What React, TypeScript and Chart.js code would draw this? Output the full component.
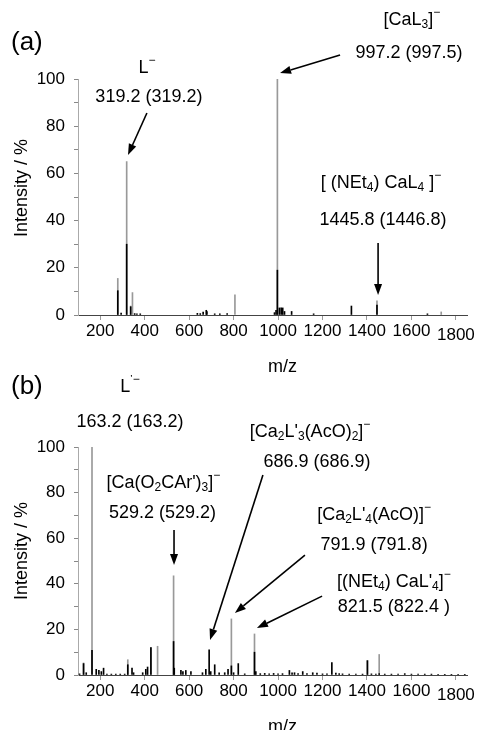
import React, { useEffect, useRef } from 'react';
import { Chart, registerables } from 'chart.js';

Chart.register(...registerables);

// ---------- tick labels / ranges ----------
const X_MIN = 100;
const X_MAX = 1850;
const xTickValues = [200, 400, 600, 800, 1000, 1200, 1400, 1600, 1800];
const yTickValues = [0, 20, 40, 60, 80, 100];

// ---------- panel (a) peaks ----------
const aGrayMz = [279, 319, 337, 345, 806, 997, 1445, 1734];
const aGrayInt = [15.5, 65, 3.8, 9.5, 8.5, 100, 6, 1.3];
const aBlackMz = [279, 294, 319, 337, 355, 365, 380, 637, 650, 663, 677, 680, 715, 738, 771, 984, 991, 997, 1006, 1014, 1021, 1029, 1061, 1160, 1330, 1445, 1672];
const aBlackInt = [10.3, 0.8, 30, 3.5, 0.6, 0.5, 0.5, 0.7, 0.6, 1.2, 2, 1.5, 0.5, 0.5, 0.6, 1, 2, 19, 3, 3, 3, 1.5, 1.5, 0.5, 3.8, 4.2, 0.5];

// ---------- panel (b) peaks ----------
const bGrayMz = [125, 163, 324, 428, 458, 530, 790, 894, 1402, 1455];
const bGrayInt = [5.3, 100, 6.7, 12, 12.6, 43.5, 24.6, 18, 6.3, 9];
const bBlackMz = [107, 125, 137, 163, 182, 194, 205, 215, 230, 250, 270, 290, 310, 324, 343, 350, 391, 405, 413, 428, 530, 533, 563, 572, 585, 608, 660, 675, 690, 697, 715, 735, 760, 775, 790, 800, 821, 850, 894, 900, 920, 940, 960, 980, 1000, 1020, 1051, 1063, 1074, 1090, 1111, 1130, 1156, 1175, 1200, 1220, 1242, 1260, 1275, 1290, 1320, 1350, 1380, 1402, 1420, 1440, 1455, 1480, 1510, 1540, 1570, 1600, 1630, 1660, 1690, 1720, 1750, 1780, 1810, 1840];
const bBlackInt = [0.5, 5, 1, 10.8, 2.5, 2, 1.5, 3, 0.4, 0.4, 0.4, 0.4, 0.4, 4.5, 3, 1, 1, 2.5, 3.5, 12, 14.7, 3, 2, 1.5, 2, 1.5, 1, 2.5, 11, 1.5, 4.5, 1, 1, 2.5, 4, 1, 5, 0.5, 10, 1.5, 0.6, 0.7, 0.5, 0.7, 0.5, 0.6, 2, 1, 1, 0.6, 1.5, 0.6, 1, 0.8, 0.5, 0.5, 5.5, 0.8, 0.6, 0.5, 0.4, 0.4, 0.4, 6.3, 0.5, 0.4, 0.6, 0.4, 0.4, 0.4, 0.6, 0.4, 0.4, 0.4, 0.4, 0.3, 0.3, 0.3, 0.3, 0.3];

// ---------- annotation texts ----------
type Kind = 'n' | 'sub' | 'sup';
type Seg = [string, Kind];
type TextNote = { segs: Seg[]; mz: number; pct: number };
type ArrowNote = [number, number, number, number];

const aTexts: TextNote[] = [
  { segs: [['L', 'n'], ['\u2212', 'sup']], mz: 410, pct: 104.7 },
  { segs: [['319.2 (319.2)', 'n']], mz: 419, pct: 92.4 },
  { segs: [['[CaL', 'n'], ['3', 'sub'], [']', 'n'], ['\u2212', 'sup']], mz: 1602, pct: 125 },
  { segs: [['997.2 (997.5)', 'n']], mz: 1589, pct: 111 },
  { segs: [['[ (NEt', 'n'], ['4', 'sub'], [') CaL', 'n'], ['4', 'sub'], [' ]', 'n'], ['\u2212', 'sup']], mz: 1463, pct: 55.9 },
  { segs: [['1445.8 (1446.8)', 'n']], mz: 1472, pct: 40.3 },
];
const aArrows: ArrowNote[] = [
  [410, 85.6, 325, 67.8],
  [1279, 110.2, 1009, 102.5],
  [1450, 30.5, 1450, 8.5],
];

const bTexts: TextNote[] = [
  { segs: [['L', 'n'], ["'\u2212", 'sup']], mz: 334, pct: 126.3 },
  { segs: [['163.2 (163.2)', 'n']], mz: 334, pct: 111 },
  { segs: [['[Ca(O', 'n'], ['2', 'sub'], ["CAr')", 'n'], ['3', 'sub'], [']', 'n'], ['\u2212', 'sup']], mz: 484, pct: 84.2 },
  { segs: [['529.2 (529.2)', 'n']], mz: 480, pct: 71 },
  { segs: [['[Ca', 'n'], ['2', 'sub'], ["L'", 'n'], ['3', 'sub'], ['(AcO)', 'n'], ['2', 'sub'], [']', 'n'], ['\u2212', 'sup']], mz: 1144, pct: 106.6 },
  { segs: [['686.9 (686.9)', 'n']], mz: 1175, pct: 93.4 },
  { segs: [['[Ca', 'n'], ['2', 'sub'], ["L'", 'n'], ['4', 'sub'], ['(AcO)]', 'n'], ['\u2212', 'sup']], mz: 1432, pct: 70.2 },
  { segs: [['791.9 (791.8)', 'n']], mz: 1432, pct: 57 },
  { segs: [['[(NEt', 'n'], ['4', 'sub'], [") CaL'", 'n'], ['4', 'sub'], [']', 'n'], ['\u2212', 'sup']], mz: 1521, pct: 40.8 },
  { segs: [['821.5 (822.4 )', 'n']], mz: 1521, pct: 29.8 },
];
const bArrows: ArrowNote[] = [
  [532, 63.6, 532, 48.2],
  [932, 87.7, 694, 15.4],
  [1121, 52.6, 806, 27.2],
  [1198, 34.6, 905, 20.6],
];

const FAMILY = '"Liberation Sans", Arial, Helvetica, sans-serif';

function drawRich(ctx: CanvasRenderingContext2D, segs: Seg[], cx: number, cy: number) {
  const fN = `18px ${FAMILY}`;
  const fS = `12px ${FAMILY}`;
  let w = 0;
  for (const [t, k] of segs) {
    ctx.font = k === 'n' ? fN : fS;
    w += ctx.measureText(t).width;
  }
  let x = cx - w / 2;
  ctx.textAlign = 'left';
  ctx.textBaseline = 'middle';
  ctx.fillStyle = '#000';
  for (const [t, k] of segs) {
    ctx.font = k === 'n' ? fN : fS;
    const dy = k === 'sub' ? 5 : k === 'sup' ? -7 : 0;
    ctx.fillText(t, x, cy + dy);
    x += ctx.measureText(t).width;
  }
}

function drawArrow(ctx: CanvasRenderingContext2D, x1: number, y1: number, x2: number, y2: number) {
  const ang = Math.atan2(y2 - y1, x2 - x1);
  const hl = 11;
  const hw = 4;
  const c = Math.cos(ang);
  const s = Math.sin(ang);
  const bx = x2 - hl * c;
  const by = y2 - hl * s;
  ctx.strokeStyle = '#000';
  ctx.lineWidth = 1.6;
  ctx.beginPath();
  ctx.moveTo(x1, y1);
  ctx.lineTo(bx, by);
  ctx.stroke();
  ctx.fillStyle = '#000';
  ctx.beginPath();
  ctx.moveTo(x2, y2);
  ctx.lineTo(bx + hw * s, by - hw * c);
  ctx.lineTo(bx - hw * s, by + hw * c);
  ctx.closePath();
  ctx.fill();
}

function zip(mz: number[], v: number[]) {
  return mz.map((m, i) => ({ x: m, y: v[i] }));
}

type PanelProps = {
  label: string;
  grayMz: number[];
  grayInt: number[];
  blackMz: number[];
  blackInt: number[];
  texts: TextNote[];
  arrows: ArrowNote[];
  height: number;
  top: number;
  xAxisH: number;
  yTitleOffset: number;
  labelY: number;
};

function Panel(p: PanelProps) {
  const ref = useRef<HTMLCanvasElement | null>(null);
  useEffect(() => {
    if (!ref.current) return;
    const notes = {
      id: 'notes',
      afterDraw(chart: any) {
        const ctx: CanvasRenderingContext2D = chart.ctx;
        const xs = chart.scales.x;
        const ys = chart.scales.y;
        const area = chart.chartArea;
        ctx.save();
        // panel letter
        ctx.font = `26px ${FAMILY}`;
        ctx.fillStyle = '#000';
        ctx.textAlign = 'left';
        ctx.textBaseline = 'middle';
        ctx.fillText(p.label, 11, p.labelY);
        // x tick labels (last one sits slightly lower, as in the original)
        ctx.font = `17px ${FAMILY}`;
        ctx.textAlign = 'center';
        ctx.textBaseline = 'top';
        xTickValues.forEach((v, i) => {
          const dy = i === xTickValues.length - 1 ? 3.5 : 0;
          ctx.fillText(String(v), xs.getPixelForValue(v), area.bottom + 8 + dy);
        });
        // axis titles
        ctx.font = `18px ${FAMILY}`;
        ctx.textBaseline = 'middle';
        ctx.fillText('m/z', (area.left + area.right) / 2 + 10, area.bottom + 52);
        ctx.save();
        ctx.translate(22, (area.top + area.bottom) / 2 - p.yTitleOffset);
        ctx.rotate(-Math.PI / 2);
        ctx.fillText('Intensity / %', 0, 0);
        ctx.restore();
        // annotations
        for (const t of p.texts) {
          drawRich(ctx, t.segs, xs.getPixelForValue(t.mz), ys.getPixelForValue(t.pct));
        }
        for (const a of p.arrows) {
          drawArrow(ctx, xs.getPixelForValue(a[0]), ys.getPixelForValue(a[1]), xs.getPixelForValue(a[2]), ys.getPixelForValue(a[3]));
        }
        ctx.restore();
      },
    };
    const chart = new Chart(ref.current, {
      type: 'bar',
      data: {
        datasets: [
          {
            data: zip(p.blackMz, p.blackInt),
            backgroundColor: '#000',
            barThickness: 1,
            grouped: false,
          } as any,
          {
            data: zip(p.grayMz, p.grayInt),
            backgroundColor: '#999',
            barThickness: 1,
            grouped: false,
          } as any,
        ],
      },
      options: {
        responsive: false,
        devicePixelRatio: 1,
        animation: false,
        layout: { padding: { top: p.top, right: 14, left: 0, bottom: 0 } },
        plugins: { legend: { display: false }, tooltip: { enabled: false } },
        scales: {
          x: {
            type: 'linear',
            min: X_MIN,
            max: X_MAX,
            offset: false,
            afterFit: (s: any) => {
              s.height = p.xAxisH;
            },
            afterBuildTicks: (s: any) => {
              s.ticks = xTickValues.map((v) => ({ value: v }));
            },
            grid: {
              display: true,
              drawOnChartArea: false,
              drawTicks: true,
              tickLength: 5,
              color: '#999',
              offset: false,
            },
            border: { display: true, color: '#444', width: 1 },
            ticks: {
              display: false,
              autoSkip: false,
            },
          },
          y: {
            min: 0,
            max: 100,
            afterFit: (s: any) => {
              s.width = 78;
            },
            afterBuildTicks: (s: any) => {
              const t: { value: number }[] = [];
              for (let i = 0; i < yTickValues.length; i++) {
                t.push({ value: yTickValues[i] });
                if (i < yTickValues.length - 1) t.push({ value: (yTickValues[i] + yTickValues[i + 1]) / 2 });
              }
              s.ticks = t;
            },
            grid: {
              display: true,
              drawOnChartArea: false,
              drawTicks: true,
              tickLength: 4,
              color: '#888',
            },
            border: { display: true, color: '#aaa', width: 1 },
            ticks: {
              font: { family: FAMILY, size: 17 },
              color: '#000',
              padding: 9,
              autoSkip: false,
              callback: (v: any) => (yTickValues.includes(Number(v)) ? String(v) : ''),
            },
          },
        },
      },
      plugins: [notes],
    });
    return () => chart.destroy();
  }, []);
  return <canvas ref={ref} width={481} height={p.height} style={{ display: 'block', width: 481, height: p.height }} />;
}

export default function App() {
  return (
    <div style={{ position: 'absolute', left: 0, top: 0, width: 481, height: 730, background: '#fff' }}>
      <Panel
        label="(a)"
        grayMz={aGrayMz}
        grayInt={aGrayInt}
        blackMz={aBlackMz}
        blackInt={aBlackInt}
        texts={aTexts}
        arrows={aArrows}
        height={375}
        top={79}
        xAxisH={60}
        yTitleOffset={9}
        labelY={43}
      />
      <Panel
        label="(b)"
        grayMz={bGrayMz}
        grayInt={bGrayInt}
        blackMz={bBlackMz}
        blackInt={bBlackInt}
        texts={bTexts}
        arrows={bArrows}
        height={355}
        top={72}
        xAxisH={55}
        yTitleOffset={10}
        labelY={12}
      />
    </div>
  );
}
